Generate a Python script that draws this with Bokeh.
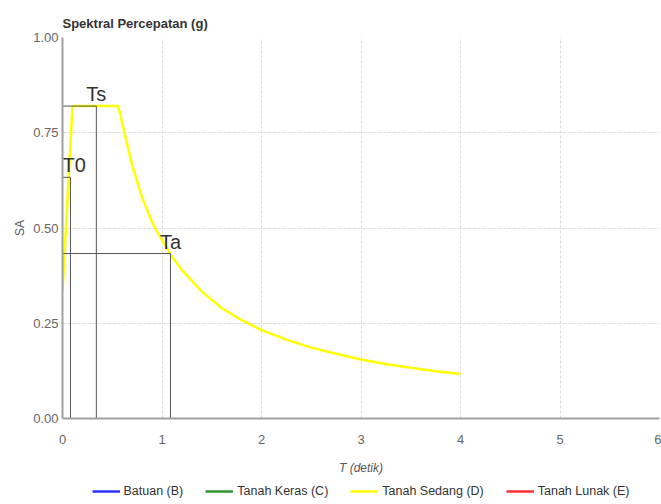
from bokeh.plotting import figure
from bokeh.layouts import column
from bokeh.models import Range1d, Legend, LegendItem, FixedTicker, CustomJSTickFormatter
from bokeh.core.properties import value
from bokeh.embed import file_html
from bokeh.resources import INLINE

# Spectrum (Tanah Sedang (D))
T_sedang = [0.0, 0.1, 0.56, 0.6, 0.7, 0.8, 0.9, 1.0, 1.1, 1.2, 1.4, 1.6, 1.8,
            2.0, 2.25, 2.5, 2.75, 3.0, 3.25, 3.5, 3.75, 4.0]
SA_sedang = [0.33, 0.82, 0.82, 0.775, 0.665, 0.58, 0.515, 0.468, 0.425, 0.39,
             0.333, 0.29, 0.258, 0.232, 0.207, 0.186, 0.17, 0.155, 0.143,
             0.133, 0.124, 0.117]

# Marker boxes
marker_names = ["T0", "Ts", "Ta"]
marker_T = [0.08, 0.34, 1.085]
marker_SA = [0.633, 0.82, 0.433]
marker_align = ["left", "center", "center"]

legend_names = ["Batuan (B)", "Tanah Keras (C)", "Tanah Sedang (D)", "Tanah Lunak (E)"]
legend_colors = ["#2f2fff", "#2e9a2e", "#ffff00", "#ff2f2f"]

x_ticks = [0, 1, 2, 3, 4, 5, 6]
y_ticks = [0.0, 0.25, 0.5, 0.75, 1.0]

FONT = "Liberation Sans"

p = figure(width=661, height=478, output_backend="svg", toolbar_location=None,
           x_range=Range1d(0, 6), y_range=Range1d(0, 1),
           min_border_left=62, min_border_right=2, min_border_top=37,
           min_border_bottom=60)
p.outline_line_color = None

p.title.text = "Spektral Percepatan (g)"
p.title.text_font = FONT
p.title.text_font_size = "13px"
p.title.text_font_style = "bold"
p.title.text_color = "#333333"
p.title.align = "left"
p.title.standoff = 14

# axes
for ax in (p.xaxis[0], p.yaxis[0]):
    ax.axis_line_color = "#a0a0a0"
    ax.axis_line_width = 2
    ax.major_tick_line_color = None
    ax.minor_tick_line_color = None
    ax.major_tick_out = 0
    ax.major_tick_in = 0
    ax.minor_tick_out = 0
    ax.major_label_text_font = FONT
    ax.major_label_text_font_size = "13px"
    ax.major_label_text_color = "#666666"
    ax.axis_label_text_font = FONT
    ax.axis_label_text_font_size = "12px"
    ax.axis_label_text_color = "#555555"

p.xaxis.ticker = FixedTicker(ticks=x_ticks)
p.yaxis.ticker = FixedTicker(ticks=y_ticks)
p.yaxis.formatter = CustomJSTickFormatter(code="return tick.toFixed(2);")
p.xaxis.axis_label = "T (detik)"
p.xaxis.axis_label_text_font_style = "italic"
p.xaxis.major_label_standoff = 16
p.xaxis.axis_label_standoff = 14
p.yaxis.axis_label = "SA"
p.yaxis.axis_label_text_font_style = "normal"
p.yaxis.major_label_standoff = 4
p.yaxis.axis_label_standoff = 3

p.xgrid.grid_line_color = "#dddddd"
p.xgrid.grid_line_dash = "3 2"
p.ygrid.grid_line_color = "#dddddd"
p.ygrid.grid_line_dash = "4 1"

p.line(T_sedang, SA_sedang, line_color=legend_colors[2], line_width=2.5)

# marker boxes
xs = [[0, t, t] for t in marker_T]
ys = [[s, s, 0] for s in marker_SA]
p.multi_line(xs, ys, line_color="#555555", line_width=1)

for name, t, s, al in zip(marker_names, marker_T, marker_SA, marker_align):
    x = 0 if al == "left" else t
    p.text(x=[x], y=[s], text=[name], text_align=al, text_baseline="bottom",
           text_font=value(FONT), text_font_size="20px", text_color="#333333",
           y_offset=-1)

# legend strip
lg = figure(width=661, height=26, output_backend="svg", toolbar_location=None,
            x_range=Range1d(0, 1), y_range=Range1d(0, 1),
            x_axis_location=None, y_axis_location=None,
            min_border_left=62, min_border_right=2, min_border_top=0,
            min_border_bottom=0)
lg.outline_line_color = None
lg.xgrid.visible = False
lg.ygrid.visible = False
nan = float("nan")
items = []
for name, col in zip(legend_names, legend_colors):
    r = lg.line([nan], [nan], line_color=col, line_width=2.5)
    items.append(LegendItem(label=name, renderers=[r]))

legend = Legend(items=items, orientation="horizontal", location="center")
legend.label_text_font = FONT
legend.label_text_font_size = "12.5px"
legend.label_text_color = "#333333"
legend.glyph_width = 28
legend.glyph_height = 12
legend.label_standoff = 4
legend.spacing = 22
legend.padding = 0
legend.margin = 0
legend.border_line_color = None
legend.background_fill_alpha = 0
legend.click_policy = "none"
lg.add_layout(legend, "center")

layout = column(p, lg, spacing=0)
open("out.html", "w").write(file_html(layout, INLINE))
